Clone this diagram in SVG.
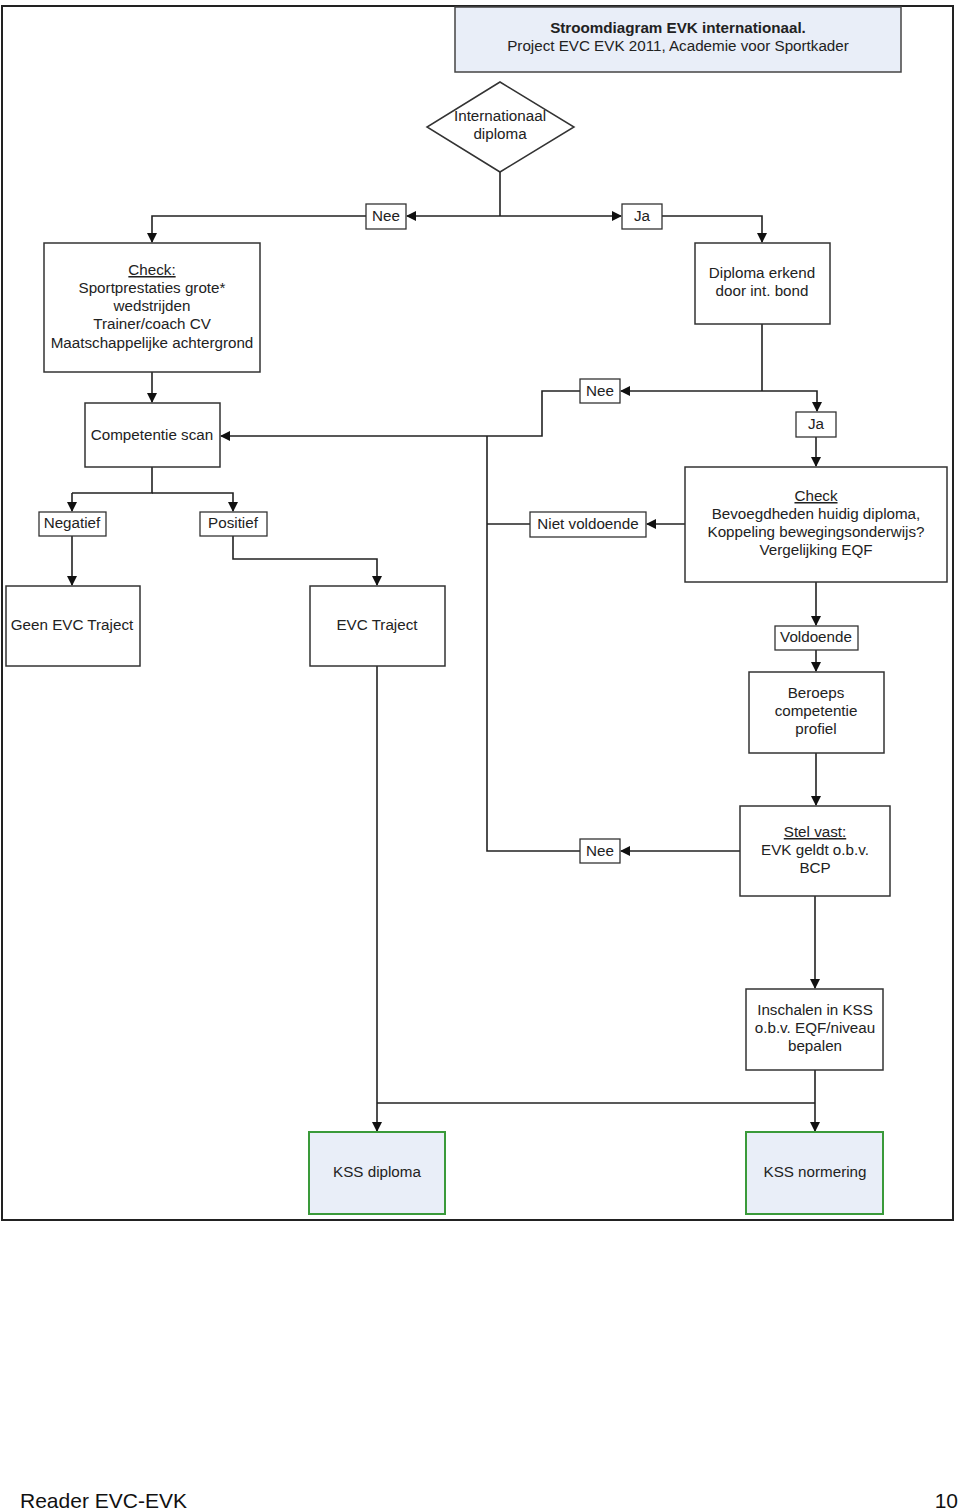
<svg xmlns="http://www.w3.org/2000/svg" width="960" height="1510" viewBox="0 0 960 1510">
<defs>
<marker id="ah" markerWidth="10" markerHeight="10" refX="9" refY="5" orient="auto" markerUnits="userSpaceOnUse">
<path d="M0,0 L10,5 L0,10 z" fill="#111"/>
</marker>
<style>
.box{fill:#fff;stroke:#333;stroke-width:1.5}
.lbl{fill:#fff;stroke:#333;stroke-width:1.3}
.hl{fill:#e9eef8;stroke:#444;stroke-width:1.5}
.gr{fill:#e9eef8;stroke:#3a9a3a;stroke-width:2}
.t{font-family:"Liberation Sans",Arial,sans-serif;font-size:15.2px;fill:#222;text-anchor:middle}
.c{fill:none;stroke:#222;stroke-width:1.6}
.ca{fill:none;stroke:#222;stroke-width:1.6;marker-end:url(#ah)}
</style>
</defs>
<rect x="2" y="6" width="951" height="1214" fill="#fff" stroke="#222" stroke-width="2"/>
<g id="connectors">
<path class="c" d="M500,172 V216"/>
<path class="ca" d="M500,216 H407"/>
<path class="ca" d="M500,216 H621"/>
<path class="ca" d="M366,216 H152 V242"/>
<path class="ca" d="M662,216 H762 V242"/>
<path class="ca" d="M152,372 V402"/>
<path class="c" d="M762,324 V391"/>
<path class="ca" d="M762,391 H621"/>
<path class="ca" d="M762,391 H817 V411"/>
<path class="ca" d="M580,391 H542 V436 H221"/>
<path class="ca" d="M816,437 V466"/>
<path class="ca" d="M685,524 H647"/>
<path class="c" d="M530,524 H487"/>
<path class="c" d="M487,436 V851 H580"/>
<path class="ca" d="M740,851 H621"/>
<path class="ca" d="M816,582 V625"/>
<path class="ca" d="M816,650 V671"/>
<path class="ca" d="M816,753 V805"/>
<path class="ca" d="M815,896 V988"/>
<path class="ca" d="M815,1070 V1131"/>
<path class="c" d="M377,1103 H815"/>
<path class="ca" d="M377,666 V1131"/>
<path class="c" d="M152,467 V493 H72"/>
<path class="ca" d="M72,493 V511"/>
<path class="ca" d="M152,493 H233 V511"/>
<path class="ca" d="M72,536 V585"/>
<path class="ca" d="M233,536 V559 H377 V585"/>
</g>
<g id="title">
<rect class="hl" x="455" y="7" width="446" height="65"/>
<text class="t" x="678" y="33" font-weight="bold">Stroomdiagram EVK internationaal.</text>
<text class="t" x="678" y="51">Project EVC EVK 2011, Academie voor Sportkader</text>
</g>
<g id="diamond">
<polygon points="500,82 574,127 500,172 427,127" fill="#fff" stroke="#333" stroke-width="1.5"/>
<text class="t" x="500" y="121">Internationaal</text>
<text class="t" x="500" y="139">diploma</text>
</g>
<g id="lbl-nee1"><rect class="lbl" x="366" y="204" width="40" height="25"/><text class="t" x="386" y="221">Nee</text></g>
<g id="lbl-ja1"><rect class="lbl" x="622" y="204" width="40" height="25"/><text class="t" x="642" y="221">Ja</text></g>
<g id="check-left">
<rect class="box" x="44" y="243" width="216" height="129"/>
<text class="t" x="152" y="275" text-decoration="underline">Check:</text>
<text class="t" x="152" y="293">Sportprestaties grote*</text>
<text class="t" x="152" y="311">wedstrijden</text>
<text class="t" x="152" y="329">Trainer/coach CV</text>
<text class="t" x="152" y="348">Maatschappelijke achtergrond</text>
</g>
<g id="diploma-erkend">
<rect class="box" x="695" y="243" width="135" height="81"/>
<text class="t" x="762" y="278">Diploma erkend</text>
<text class="t" x="762" y="296">door int. bond</text>
</g>
<g id="lbl-nee2"><rect class="lbl" x="580" y="379" width="40" height="24"/><text class="t" x="600" y="396">Nee</text></g>
<g id="lbl-ja2"><rect class="lbl" x="796" y="412" width="40" height="25"/><text class="t" x="816" y="429">Ja</text></g>
<g id="competentie-scan">
<rect class="box" x="85" y="403" width="135" height="64"/>
<text class="t" x="152" y="440">Competentie scan</text>
</g>
<g id="check-right">
<rect class="box" x="685" y="467" width="262" height="115"/>
<text class="t" x="816" y="501" text-decoration="underline">Check</text>
<text class="t" x="816" y="519">Bevoegdheden huidig diploma,</text>
<text class="t" x="816" y="537">Koppeling bewegingsonderwijs?</text>
<text class="t" x="816" y="555">Vergelijking EQF</text>
</g>
<g id="lbl-niet-voldoende"><rect class="lbl" x="530" y="512" width="116" height="25"/><text class="t" x="588" y="529">Niet voldoende</text></g>
<g id="lbl-negatief"><rect class="lbl" x="39" y="512" width="67" height="24"/><text class="t" x="72" y="528">Negatief</text></g>
<g id="lbl-positief"><rect class="lbl" x="200" y="512" width="67" height="24"/><text class="t" x="233" y="528">Positief</text></g>
<g id="geen-evc">
<rect class="box" x="6" y="586" width="134" height="80"/>
<text class="t" x="72" y="630">Geen EVC Traject</text>
</g>
<g id="evc-traject">
<rect class="box" x="310" y="586" width="135" height="80"/>
<text class="t" x="377" y="630">EVC Traject</text>
</g>
<g id="lbl-voldoende"><rect class="lbl" x="775" y="626" width="83" height="24"/><text class="t" x="816" y="642">Voldoende</text></g>
<g id="beroeps">
<rect class="box" x="749" y="672" width="135" height="81"/>
<text class="t" x="816" y="698">Beroeps</text>
<text class="t" x="816" y="716">competentie</text>
<text class="t" x="816" y="734">profiel</text>
</g>
<g id="stel-vast">
<rect class="box" x="740" y="806" width="150" height="90"/>
<text class="t" x="815" y="837" text-decoration="underline">Stel vast:</text>
<text class="t" x="815" y="855">EVK geldt o.b.v.</text>
<text class="t" x="815" y="873">BCP</text>
</g>
<g id="lbl-nee3"><rect class="lbl" x="580" y="839" width="40" height="24"/><text class="t" x="600" y="856">Nee</text></g>
<g id="inschalen">
<rect class="box" x="746" y="989" width="137" height="81"/>
<text class="t" x="815" y="1015">Inschalen in KSS</text>
<text class="t" x="815" y="1033">o.b.v. EQF/niveau</text>
<text class="t" x="815" y="1051">bepalen</text>
</g>
<g id="kss-diploma">
<rect class="gr" x="309" y="1132" width="136" height="82"/>
<text class="t" x="377" y="1177">KSS diploma</text>
</g>
<g id="kss-normering">
<rect class="gr" x="746" y="1132" width="137" height="82"/>
<text class="t" x="815" y="1177">KSS normering</text>
</g>
<text x="20" y="1508" font-family="Liberation Sans,Arial,sans-serif" font-size="21" fill="#111">Reader EVC-EVK</text>
<text x="958" y="1508" font-family="Liberation Sans,Arial,sans-serif" font-size="21" fill="#111" text-anchor="end">10</text>
</svg>
